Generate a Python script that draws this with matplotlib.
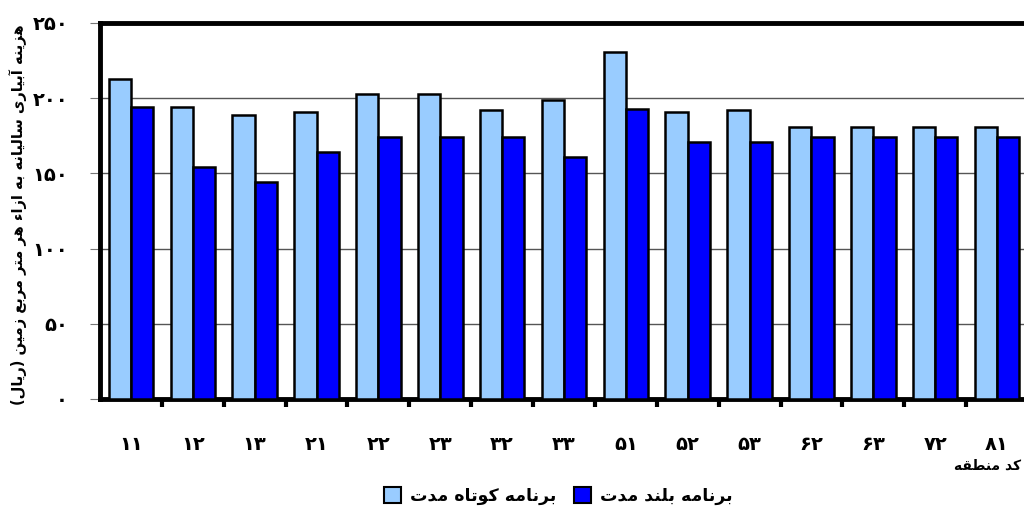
import numpy as np
import matplotlib
matplotlib.use("Agg")
import matplotlib.pyplot as plt
from matplotlib.patches import Patch

# --- data ---
regions = ["۱۱", "۱۲", "۱۳", "۲۱", "۲۲", "۲۳", "۳۲", "۳۳", "۵۱", "۵۲", "۵۳", "۶۲", "۶۳", "۷۲", "۸۱"]
short_term = [213, 194, 189, 191, 203, 203, 192, 199, 231, 191, 192, 181, 181, 181, 181]
long_term = [194, 154, 144, 164, 174, 174, 174, 161, 193, 171, 171, 174, 174, 174, 174]
yticks = [0, 50, 100, 150, 200, 250]
ytick_labels = ["۰", "۵۰", "۱۰۰", "۱۵۰", "۲۰۰", "۲۵۰"]

ylabel = "هزینه آبیاری سالیانه به ازاء هر متر مربع زمین (ریال)"
xlabel = "کد منطقه"
series_names = ["برنامه کوتاه مدت", "برنامه بلند مدت"]

# --- minimal persian shaping (matplotlib has no bidi / joining) ---
# letter: (isolated, final, initial, medial); None = does not join forward
forms = {
  "ا": ("\uFE8D", "\uFE8E", None, None),
  "آ": ("\uFE81", "\uFE82", None, None),
  "ء": ("\uFE80", "\uFE80", None, None),
  "ب": ("\uFE8F", "\uFE90", "\uFE91", "\uFE92"),
  "ت": ("\uFE95", "\uFE96", "\uFE97", "\uFE98"),
  "د": ("\uFEA9", "\uFEAA", None, None),
  "ر": ("\uFEAD", "\uFEAE", None, None),
  "ز": ("\uFEAF", "\uFEB0", None, None),
  "س": ("\uFEB1", "\uFEB2", "\uFEB3", "\uFEB4"),
  "ط": ("\uFEC1", "\uFEC2", "\uFEC3", "\uFEC4"),
  "ع": ("\uFEC9", "\uFECA", "\uFECB", "\uFECC"),
  "ق": ("\uFED5", "\uFED6", "\uFED7", "\uFED8"),
  "ل": ("\uFEDD", "\uFEDE", "\uFEDF", "\uFEE0"),
  "م": ("\uFEE1", "\uFEE2", "\uFEE3", "\uFEE4"),
  "ن": ("\uFEE5", "\uFEE6", "\uFEE7", "\uFEE8"),
  "ه": ("\uFEE9", "\uFEEA", "\uFEEB", "\uFEEC"),
  "و": ("\uFEED", "\uFEEE", None, None),
  "ی": ("\uFBFC", "\uFBFD", "\uFBFE", "\uFBFF"),
  "ک": ("\uFB8E", "\uFB8F", "\uFB90", "\uFB91"),
}

def joins_forward(c):
  return c in forms and forms[c][2] is not None

def shape(s):
  out = []
  for i, c in enumerate(s):
    if c not in forms:
      out.append(c)
      continue
    prev = s[i-1] if i > 0 else ""
    nxt = s[i+1] if i + 1 < len(s) else ""
    link_prev = joins_forward(prev)
    link_next = joins_forward(c) and nxt in forms
    iso, fin, ini, med = forms[c]
    if link_prev and link_next:
      out.append(med)
    elif link_prev:
      out.append(fin)
    elif link_next:
      out.append(ini)
    else:
      out.append(iso)
  vis = "".join(out)[::-1]
  return vis.translate(str.maketrans("()", ")("))

plt.rcParams['font.family'] = ['DejaVu Sans']
plt.rcParams['font.weight'] = 'bold'

fig = plt.figure(figsize=(10.24, 5.18), dpi=100)
ax = fig.add_axes([100/1024, 1-399/518, 928/1024, 376/518])

x = np.arange(len(regions))
w = 0.36
ax.bar(x - w/2, short_term, w, color="#99CCFF", edgecolor="black", linewidth=1.8, zorder=3)
ax.bar(x + w/2, long_term, w, color="#0000FF", edgecolor="black", linewidth=1.8, zorder=3)

ax.set_xlim(-0.5, len(regions) - 0.5)
ax.set_ylim(0, 250)
ax.set_yticks(yticks)
ax.set_yticklabels(ytick_labels, fontsize=14, fontweight='bold')
ax.yaxis.grid(True, color="#555555", linewidth=1, zorder=0)
ax.tick_params(axis='y', length=7, color="#777777", pad=16)

ax.set_xticks(x)
ax.set_xticklabels(regions, fontsize=14, fontweight='bold')
ax.tick_params(axis='x', which='major', length=0, pad=26)
ax.set_xticks(x[:-1] + 0.5, minor=True)
ax.tick_params(axis='x', which='minor', length=6, width=3, color="black")

for side in ["left", "top", "bottom"]:
  ax.spines[side].set_linewidth(3.5)
ax.spines["right"].set_visible(False)

fig.text(18/1024, 1-215/518, shape(ylabel), rotation=90, ha='center', va='center',
         fontsize=10.5, fontweight='bold')
fig.text(1021/1024, 1-466/518, shape(xlabel), ha='right', va='center',
         fontsize=10, fontweight='bold')

handles = [Patch(facecolor="#99CCFF", edgecolor="black", linewidth=1.5),
           Patch(facecolor="#0000FF", edgecolor="black", linewidth=1.5)]
fig.legend(handles, [shape(n) for n in series_names], loc='center', ncol=2,
           bbox_to_anchor=(558/1024, 1-496/518), frameon=False,
           handlelength=1.0, handleheight=1.0, handletextpad=0.5, columnspacing=1.0,
           prop={'weight': 'bold', 'size': 12.5})

fig.savefig("out.png", dpi=100)
